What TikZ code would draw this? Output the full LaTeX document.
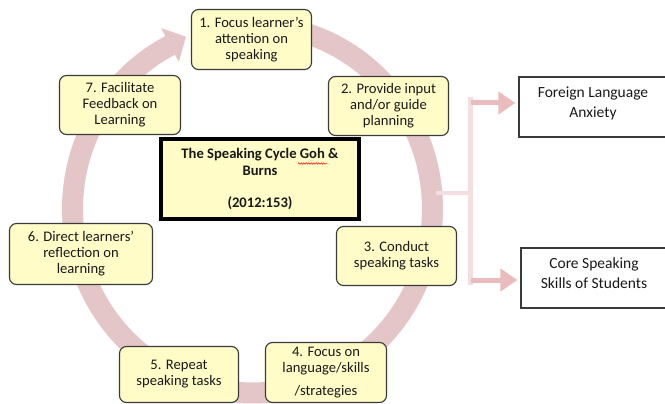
\documentclass[tikz,border=0pt]{standalone}
\usepackage{fontspec}
\setmainfont{Carlito}
\usetikzlibrary{arrows.meta,decorations.pathmorphing}
\definecolor{ringcol}{RGB}{229,198,200}
\definecolor{nodefill}{RGB}{255,252,200}
\definecolor{nodeline}{RGB}{58,58,58}
\definecolor{barcol}{RGB}{244,222,223}
\definecolor{arrcol}{RGB}{235,188,190}
\definecolor{txtcol}{RGB}{25,25,25}
\begin{document}
\begin{tikzpicture}[x=1pt,y=-1pt,
  cyc/.style={draw=nodeline, line width=1.1pt, fill=nodefill, rounded corners=7pt,
    align=center, inner sep=0pt, text=txtcol, font=\fontsize{14.6}{16}\selectfont},
  centrebox/.style={draw=black, line width=4pt, fill=nodefill, align=center, inner sep=0pt,
    text=txtcol, font=\bfseries\fontsize{14.6}{17}\selectfont},
  sidebox/.style={draw=nodeline, line width=1.3pt, fill=white, inner sep=0pt},
  sidetext/.style={align=center, inner sep=0pt, text=txtcol, font=\fontsize{15.5}{20}\selectfont},
  ringline/.style={draw=ringcol, line width=21pt},
  barline/.style={draw=barcol, line width=5pt},
  outarrow/.style={draw=arrcol, line width=5pt, -{Triangle[width=22pt,length=17pt]}, shorten >=3pt},
  spellmark/.style={draw=red, line width=0.5pt, decorate, decoration={snake, amplitude=0.7pt, segment length=2.5pt}}
]
\useasboundingbox (0,0) rectangle (665,404);
\fill[white] (0,0) rectangle (665,404);

% cycle ring with arrow head
\draw[ringline] plot[domain=-243:100, samples=160, smooth] ({252.5+180*cos(\x)},{209-184*sin(\x)});
\fill[ringcol] (161.2,28.1) -- (186,36.7) -- (178.8,61.9) -- cycle;

% right-hand connector
\coordinate (ringR) at (436,193);
\coordinate (split) at (470.5,193);
\coordinate (bt) at (470.5,97);
\coordinate (bb) at (470.5,285);
\coordinate (t1) at (470.5,103);
\coordinate (b1) at (470.5,280);
\draw[barline] (bt) -- (bb);
\draw[barline, line width=4pt] (ringR) -- (split);

% cycle nodes
\node[cyc, minimum width=120pt, minimum height=60pt] (n1) at (251.5,39.5) {1. Focus learner’s\\attention on\\speaking};
\node[cyc, minimum width=120pt, minimum height=59pt] (n2) at (388.5,106) {2. Provide input\\and/or guide\\planning};
\node[cyc, minimum width=120pt, minimum height=59pt] (n3) at (396.5,256) {3. Conduct\\speaking tasks};
\node[cyc, minimum width=121pt, minimum height=60pt] (n4) at (326,372.5) {4. Focus on\\language/skills\\[7pt]/strategies};
\node[cyc, minimum width=119pt, minimum height=56pt] (n5) at (179,374.5) {5. Repeat\\speaking tasks};
\node[cyc, minimum width=143pt, minimum height=61pt] (n6) at (81,254) {6. Direct learners’\\reflection on\\learning};
\node[cyc, minimum width=121pt, minimum height=59pt] (n7) at (120,105) {7. Facilitate\\Feedback on\\Learning};

\node[centrebox, minimum width=198pt, minimum height=80pt] (ctr) at (260,179) {The Speaking Cycle Goh \&\\Burns\\[15pt](2012:153)};
\draw[spellmark] (298,163.5) -- (327,163.5);

% outcome boxes
\node[sidebox, minimum width=148pt, minimum height=60pt] (fla) at (593,107) {};
\node[sidetext] (flat) at ([yshift=4pt]fla.center) {Foreign Language\\Anxiety};
\node[sidebox, minimum width=146pt, minimum height=60pt] (core) at (594,278) {};
\node[sidetext] (coret) at ([yshift=5pt]core.center) {Core Speaking\\Skills of Students};

\draw[outarrow] (t1) -- (t1 -| fla.west);
\draw[outarrow] (b1) -- (b1 -| core.west);
\end{tikzpicture}
\end{document}
